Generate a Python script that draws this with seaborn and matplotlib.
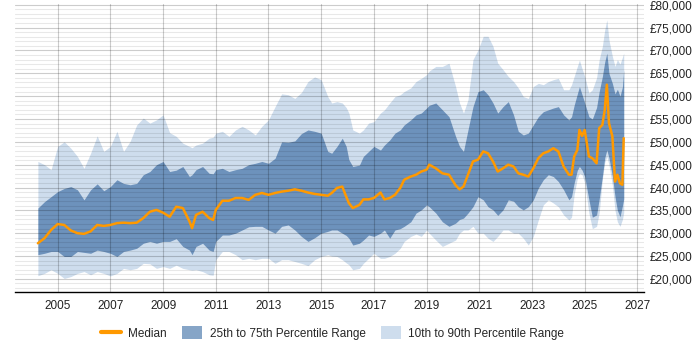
import matplotlib
matplotlib.use("Agg")
import matplotlib.pyplot as plt
from matplotlib.lines import Line2D
from matplotlib.patches import Patch
from matplotlib.ticker import FuncFormatter, MultipleLocator
import pandas as pd
import seaborn as sns

years = [2004.25, 2004.5, 2004.75, 2005.0, 2005.25, 2005.5, 2005.75, 2006.0, 2006.25, 2006.5,
         2006.75, 2007.0, 2007.25, 2007.5, 2007.75, 2008.0, 2008.25, 2008.5, 2008.75, 2009.0,
         2009.25, 2009.5, 2009.75, 2010.0, 2010.1, 2010.25, 2010.5, 2010.75, 2010.9, 2011.0,
         2011.25, 2011.5, 2011.75, 2012.0, 2012.25, 2012.5, 2012.75, 2013.0, 2013.25, 2013.5,
         2013.75, 2014.0, 2014.25, 2014.5, 2014.75, 2015.0, 2015.25, 2015.4, 2015.6, 2015.8,
         2015.95, 2016.05, 2016.2, 2016.45, 2016.6, 2016.8, 2017.0, 2017.25, 2017.4, 2017.6,
         2017.8, 2018.0, 2018.15, 2018.4, 2018.6, 2018.8, 2019.0, 2019.1, 2019.35, 2019.6,
         2019.85, 2020.1, 2020.25, 2020.4, 2020.57, 2020.76, 2020.95, 2021.15, 2021.33, 2021.52,
         2021.7, 2021.9, 2022.1, 2022.3, 2022.48, 2022.67, 2022.86, 2023.05, 2023.24, 2023.43,
         2023.62, 2023.81, 2024.0, 2024.2, 2024.4, 2024.5, 2024.6, 2024.72, 2024.8, 2024.9,
         2025.0, 2025.16, 2025.29, 2025.45, 2025.55, 2025.67, 2025.76, 2025.84, 2025.92, 2026.05,
         2026.15, 2026.24, 2026.34, 2026.43, 2026.48]

p10 = [20700, 21200, 22000, 21200, 20100, 20500, 21200, 21600, 20900, 21600,
       21200, 20650, 21200, 22300, 22000, 22300, 23400, 23300, 22300, 22700,
       22300, 23000, 22300, 22000, 21900, 22000, 21600, 20900, 20800, 24200,
       26000, 26000, 25300, 24200, 24500, 24200, 24500, 24500, 23400, 24200,
       24200, 23800, 23400, 22900, 24200, 24900, 25300, 25000, 24900, 24200,
       23500, 23100, 22000, 22300, 23400, 24500, 25600, 24500, 24500, 24900,
       25600, 26700, 28200, 29300, 29800, 29300, 30700, 30000, 28500, 27100,
       27800, 28500, 30000, 30700, 30700, 31500, 30000, 30000, 28900, 28200,
       29300, 30700, 30700, 30000, 30000, 28900, 27400, 29300, 32900, 36200,
       37300, 36600, 35800, 34000, 32900, 33500, 38500, 42000, 43100, 42800,
       41000, 34400, 31000, 31500, 34500, 41800, 45500, 46800, 45000, 40500,
       35000, 32500, 31500, 33000, 34500]

p25 = [25300, 25600, 26000, 26000, 24900, 24900, 26000, 25800, 25600, 26300,
       26000, 25600, 24900, 26000, 26300, 26700, 27800, 28200, 27800, 28200,
       28200, 28800, 27100, 26300, 25300, 27100, 27800, 26300, 26000, 28200,
       29600, 29600, 30000, 30700, 31400, 31500, 31500, 30700, 30000, 31500,
       31800, 30700, 29300, 28200, 29000, 30000, 30400, 30700, 30700, 30000,
       29500, 28900, 27400, 27800, 28500, 29600, 29300, 30000, 30700, 28900,
       30700, 31000, 31500, 32500, 34400, 35100, 36200, 35800, 34400, 32500,
       31500, 32200, 33000, 33300, 34400, 35800, 38000, 37300, 35800, 35100,
       33900, 35100, 37300, 37000, 35800, 35100, 35800, 37300, 39900, 41700,
       42800, 42400, 41300, 39500, 37300, 38000, 41000, 43800, 44600, 43800,
       42400, 37300, 33500, 34000, 37500, 42400, 46500, 48200, 46500, 42500,
       38000, 35000, 33600, 36000, 37500]

median = [27800, 28900, 30700, 32000, 31800, 30600, 30000, 29850, 30400, 31800,
          31600, 31800, 32200, 32300, 32200, 32300, 33300, 34700, 35100, 34500,
          33600, 35800, 35500, 32600, 31100, 34000, 34700, 33300, 32900, 35100,
          37100, 37100, 37700, 37700, 37300, 38400, 38800, 38400, 38800, 39100,
          39300, 39600, 39300, 38900, 38600, 38400, 38200, 38800, 39900, 40200,
          38000, 36600, 35500, 36200, 37400, 37400, 37700, 38900, 37400, 37700,
          38400, 39900, 41700, 42400, 42800, 43500, 43900, 45000, 44200, 43100,
          42800, 40500, 39600, 40200, 42800, 45700, 46100, 47900, 47500, 45700,
          43500, 44200, 45000, 44600, 43100, 42800, 42400, 44200, 46400, 47500,
          47900, 48600, 47900, 44600, 42800, 42800, 46800, 48200, 52600, 51300,
          52600, 46800, 46400, 45300, 53000, 53700, 57000, 62500, 54100, 51200,
          41300, 42800, 40900, 40600, 50800]

p75 = [35500, 36900, 38000, 39100, 39800, 40200, 39500, 37300, 39500, 40800,
       39300, 40200, 41700, 40900, 40600, 40900, 42800, 43500, 45000, 45700,
       43500, 43800, 44600, 42400, 42800, 43900, 44600, 43100, 43000, 43900,
       44200, 43500, 43900, 44200, 45000, 45300, 45700, 45300, 46400, 50000,
       49900, 50200, 51800, 52600, 52300, 51900, 47900, 47500, 49000, 50800,
       49000, 46100, 44600, 44900, 46800, 47900, 49000, 48200, 49300, 50400,
       51900, 52600, 53700, 54800, 55900, 56300, 57400, 58000, 58500, 57000,
       55500, 51200, 49000, 47900, 52600, 57700, 61000, 61400, 60300, 58500,
       56300, 57700, 58800, 55900, 52300, 51500, 51900, 53700, 55500, 56600,
       57000, 57400, 57700, 55900, 54800, 55500, 58000, 60500, 62100, 60300,
       58500, 55500, 55000, 57500, 61000, 64300, 67500, 69400, 65000, 62800,
       60500, 61500, 60000, 62000, 65800]

p90 = [45700, 45000, 43900, 49000, 50000, 48600, 46800, 44200, 47500, 51300,
       47900, 49000, 52300, 47900, 50100, 53700, 55200, 54100, 54800, 55900,
       52000, 51200, 49700, 49000, 48700, 49300, 49700, 50800, 51000, 51900,
       52300, 51200, 52600, 53400, 52600, 51500, 53400, 54800, 57700, 60500,
       60300, 59500, 60800, 63200, 64200, 63600, 59900, 58500, 58800, 58500,
       57500, 56300, 52600, 51900, 52600, 54100, 54400, 56300, 57000, 58500,
       59900, 60300, 61000, 61800, 63200, 63900, 64700, 65500, 66500, 66500,
       67200, 62100, 58500, 56300, 59200, 68000, 70100, 73100, 73100, 70900,
       67200, 65800, 64300, 63200, 61800, 59900, 59500, 62100, 62800, 62500,
       63200, 63600, 63900, 61400, 61400, 62500, 64300, 66500, 67900, 66000,
       64300, 60700, 61400, 64000, 68000, 70900, 74500, 76700, 72300, 68700,
       66500, 68000, 67000, 68500, 69400]

df = pd.DataFrame({"year": years, "p10": p10, "p25": p25, "median": median,
                   "p75": p75, "p90": p90})

sns.set_style("white")
plt.rcParams["font.family"] = ["Liberation Sans", "DejaVu Sans"]

light = "#cedded"
dark = "#6d92bc"
orange = "#ff9900"

fig = plt.figure(figsize=(7, 3.5), dpi=100)
ax = fig.add_axes([0.021, 0.166, 0.899, 0.823])

# bands go under the grid so the gridlines show faintly through them
ax.fill_between(df["year"], df["p10"], df["p90"], color=light, lw=0, zorder=1)
ax.fill_between(df["year"], df["p25"], df["p75"], color=dark, lw=0, zorder=1.1)
sns.lineplot(data=df, x="year", y="median", color=orange, lw=1.8, ax=ax, zorder=4)

ax.set_xlim(2003.37, 2027.25)
ax.set_ylim(17150, 80200)
ax.set_xticks(range(2005, 2028, 2))
ax.yaxis.set_major_locator(MultipleLocator(5000))
ax.yaxis.set_minor_locator(MultipleLocator(1000))
ax.yaxis.tick_right()
ax.yaxis.set_major_formatter(FuncFormatter(lambda v, p: f"£{v:,.0f}"))
ax.tick_params(axis="both", which="both", length=0, labelsize=8.5, colors="#222222")
ax.tick_params(axis="y", pad=4)
ax.tick_params(axis="x", pad=6)

ax.set_axisbelow(False)
ax.grid(True, which="major", axis="both", color="#000000", alpha=0.2, lw=0.8, zorder=2)
ax.grid(True, which="minor", axis="y", color="#000000", alpha=0.09, lw=0.8, zorder=2)
ax.set_xlabel("")
ax.set_ylabel("")
for s in ["left", "top", "right"]:
    ax.spines[s].set_visible(False)
ax.spines["bottom"].set_color("#000000")
ax.spines["bottom"].set_linewidth(1)

handles = [Line2D([0], [0], color=orange, lw=3),
           Patch(facecolor="#86a5c7", edgecolor="none"),
           Patch(facecolor=light, edgecolor="none")]
labels = ["Median", "25th to 75th Percentile Range", "10th to 90th Percentile Range"]
ax.legend(handles, labels, loc="center", bbox_to_anchor=(0.505, -0.143), ncol=3,
          frameon=False, fontsize=8.5, handlelength=1.7, handleheight=1.3,
          columnspacing=1.3, handletextpad=0.6)

fig.savefig("out.png", dpi=100)
plt.close(fig)
